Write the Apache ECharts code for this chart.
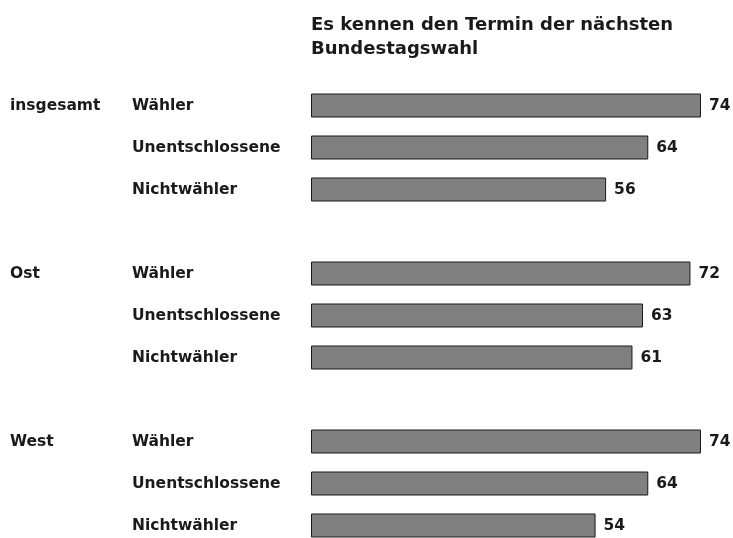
<!DOCTYPE html>
<html>
<head>
<meta charset="utf-8">
<script src="https://cdn.jsdelivr.net/npm/echarts@6/dist/echarts.min.js"></script>
<style>
  html, body { margin: 0; padding: 0; background: #fff; }
  #chart { width: 733px; height: 538px; }
</style>
</head>
<body>
<div id="chart"></div>
<script>
// data
var groups = ["insgesamt", "Ost", "West"];
var subgroups = ["Wähler", "Unentschlossene", "Nichtwähler"];
var values = [
  [74, 64, 56],
  [72, 63, 61],
  [74, 64, 54]
];

// build rows, with one empty slot between the groups
var groupLabels = [];
var subLabels = [];
var barData = [];
for (var g = 0; g < groups.length; g++) {
  if (g > 0) {
    groupLabels.push("");
    subLabels.push("");
    barData.push(null);
  }
  for (var s = 0; s < subgroups.length; s++) {
    groupLabels.push(s === 0 ? groups[g] : "");
    subLabels.push(subgroups[s]);
    barData.push(values[g][s]);
  }
}

var font = "DejaVu Sans";
var chart = echarts.init(document.getElementById("chart"));
chart.setOption({
  animation: false,
  title: {
    text: "Es kennen den Termin der nächsten\nBundestagswahl",
    left: 311,
    top: 13,
    padding: 0,
    textStyle: {
      fontFamily: font,
      fontSize: 18,
      fontWeight: "bold",
      lineHeight: 24,
      color: "#1a1a1a"
    }
  },
  grid: {
    left: 311,
    right: 0.4,
    top: 105.5,
    height: 420
  },
  xAxis: {
    type: "value",
    min: 0,
    max: 80,
    show: false
  },
  yAxis: [
    {
      type: "category",
      inverse: true,
      boundaryGap: false,
      data: subLabels,
      axisLine: { show: false },
      axisTick: { show: false },
      axisLabel: {
        align: "left",
        margin: 179,
        fontFamily: font,
        fontSize: 15.5,
        fontWeight: "bold",
        color: "#1a1a1a"
      }
    },
    {
      type: "category",
      inverse: true,
      boundaryGap: false,
      position: "left",
      data: groupLabels,
      axisLine: { show: false },
      axisTick: { show: false },
      axisLabel: {
        align: "left",
        margin: 301,
        fontFamily: font,
        fontSize: 15.5,
        fontWeight: "bold",
        color: "#1a1a1a"
      }
    }
  ],
  series: [
    {
      type: "bar",
      data: barData,
      barWidth: 24,
      itemStyle: {
        color: "#808080",
        borderColor: "#1a1a1a",
        borderWidth: 1
      },
      label: {
        show: true,
        position: "right",
        distance: 8,
        fontFamily: font,
        fontSize: 15.5,
        fontWeight: "bold",
        color: "#1a1a1a"
      }
    }
  ]
});
</script>
</body>
</html>
